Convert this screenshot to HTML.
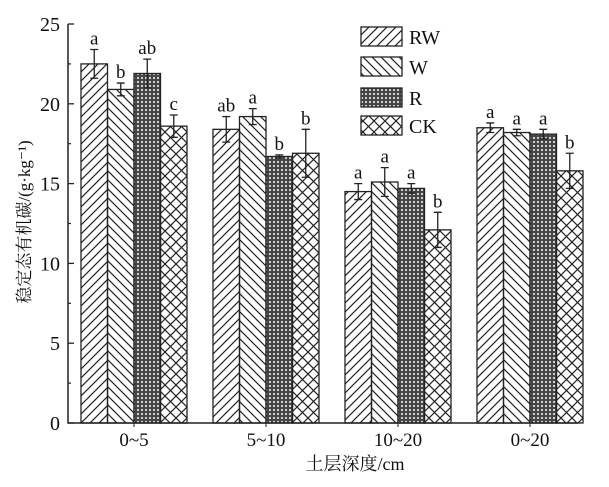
<!DOCTYPE html>
<html><head><meta charset="utf-8"><style>
body{margin:0;background:#fff}
svg{display:block;font-family:"Liberation Serif","Noto Serif CJK SC",serif}
</style></head><body>
<svg width="609" height="487" viewBox="0 0 609 487">
<defs>
<pattern id="pRW" patternUnits="userSpaceOnUse" width="9" height="9"><path d="M-2,11 L11,-2 M-2,2 L2,-2 M7,11 L11,7" stroke="#222" stroke-width="1.2"/></pattern>
<pattern id="pW" patternUnits="userSpaceOnUse" width="9" height="9"><path d="M-2,-2 L11,11 M-2,7 L2,11 M7,-2 L11,2" stroke="#222" stroke-width="1.2"/></pattern>
<pattern id="pR" patternUnits="userSpaceOnUse" width="4" height="4"><rect width="4" height="4" fill="#444"/><circle cx="2" cy="2" r="1.1" fill="#ddd"/></pattern>
<pattern id="pCK" patternUnits="userSpaceOnUse" width="11" height="11"><path d="M0,0 L11,11 M11,0 L0,11" stroke="#222" stroke-width="1.2"/></pattern>
</defs>
<g id="chart"></g>
</svg>
<script>
const categories=["0~5","5~10","10~20","0~20"];
const series=["RW","W","R","CK"];
const valRW=[22.5,18.4,14.5,18.5];
const valW=[20.9,19.2,15.1,18.2];
const valR=[21.9,16.7,14.7,18.1];
const valCK=[18.6,16.9,12.1,15.8];
const errRW=[0.9,0.8,0.5,0.3];
const errW=[0.4,0.5,0.9,0.2];
const errR=[0.9,0.1,0.3,0.3];
const errCK=[0.7,1.5,1.1,1.1];
const lblRW=["a","ab","a","a"];
const lblW=["b","a","a","a"];
const lblR=["ab","b","a","a"];
const lblCK=["c","b","b","b"];
const yTicks=[0,5,10,15,20,25];
const NS="http://www.w3.org/2000/svg";
const g=document.getElementById('chart');
const x0=68,yBase=423,pxU=15.96,barW=26.5,groupStart=81,groupStep=132;
const y=v=>yBase-v*pxU;
const bx=(gi,si)=>groupStart+gi*groupStep+si*barW;
function mk(t,a,p){const e=document.createElementNS(NS,t);for(const k in a)e.setAttribute(k,a[k]);(p||g).appendChild(e);return e;}
const vals=[valRW,valW,valR,valCK],errs=[errRW,errW,errR,errCK],lbls=[lblRW,lblW,lblR,lblCK];
const fills=["url(#pRW)","url(#pW)","url(#pR)","url(#pCK)"];
categories.forEach((c,gi)=>{
 series.forEach((s,si)=>{
  const v=vals[si][gi],e=errs[si][gi],X=bx(gi,si);
  const r=mk('rect',{x:X,y:y(v),width:barW,height:yBase-y(v),fill:fills[si],stroke:'#222','stroke-width':1.3});
  
  
  const cx=X+barW/2;
  const eb=mk('path',{d:`M${cx},${y(v+e)}V${y(v-e)}M${cx-4},${y(v+e)}H${cx+4}M${cx-4},${y(v-e)}H${cx+4}`,stroke:'#222','stroke-width':1.3,fill:'none'});
  
  
  const t=mk('text',{x:cx,y:y(v+e)-5,'text-anchor':'middle','font-size':19,fill:'#111'});
  t.textContent=lbls[si][gi];
  
  
 });
 const cl=mk('text',{x:groupStart+gi*groupStep+2*barW,y:446,'text-anchor':'middle','font-size':19,fill:'#111'});
 cl.textContent=c;
 
 
});
const ax=mk('path',{d:`M${x0},${y(25)}V${yBase}H578`,stroke:'#222','stroke-width':1.5,fill:'none'});


yTicks.forEach(v=>{
 mk('line',{x1:x0,x2:x0+6,y1:y(v),y2:y(v),stroke:'#222','stroke-width':1.3});
 if(v<25)mk('line',{x1:x0,x2:x0+3,y1:y(v+2.5),y2:y(v+2.5),stroke:'#222','stroke-width':1.2});
 const t=mk('text',{x:x0-8,y:y(v)+7,'text-anchor':'end','font-size':20,fill:'#111'});
 t.textContent=v;
 
 
});
categories.forEach((c,gi)=>mk('line',{x1:groupStart+gi*groupStep+2*barW,x2:groupStart+gi*groupStep+2*barW,y1:yBase,y2:yBase+4,stroke:'#222'}));
const xt=mk('text',{x:355,y:470,'text-anchor':'middle','font-size':18,fill:'#111'});
xt.textContent='土层深度/cm';


const yt=mk('text',{x:0,y:0,'text-anchor':'middle','font-size':17,fill:'#111',transform:'translate(30,222) rotate(-90)'});
yt.textContent='稳定态有机碳/(g·kg⁻¹)';


const ly=[27,57,88,116];
series.forEach((s,i)=>{
 const r=mk('rect',{x:361,y:ly[i],width:41,height:19,fill:fills[i],stroke:'#222','stroke-width':1.3});
 
 
 const t=mk('text',{x:409,y:ly[i]+17,'font-size':20,fill:'#111'});
 t.textContent=s;
 
 
});
</script>
</body></html>
